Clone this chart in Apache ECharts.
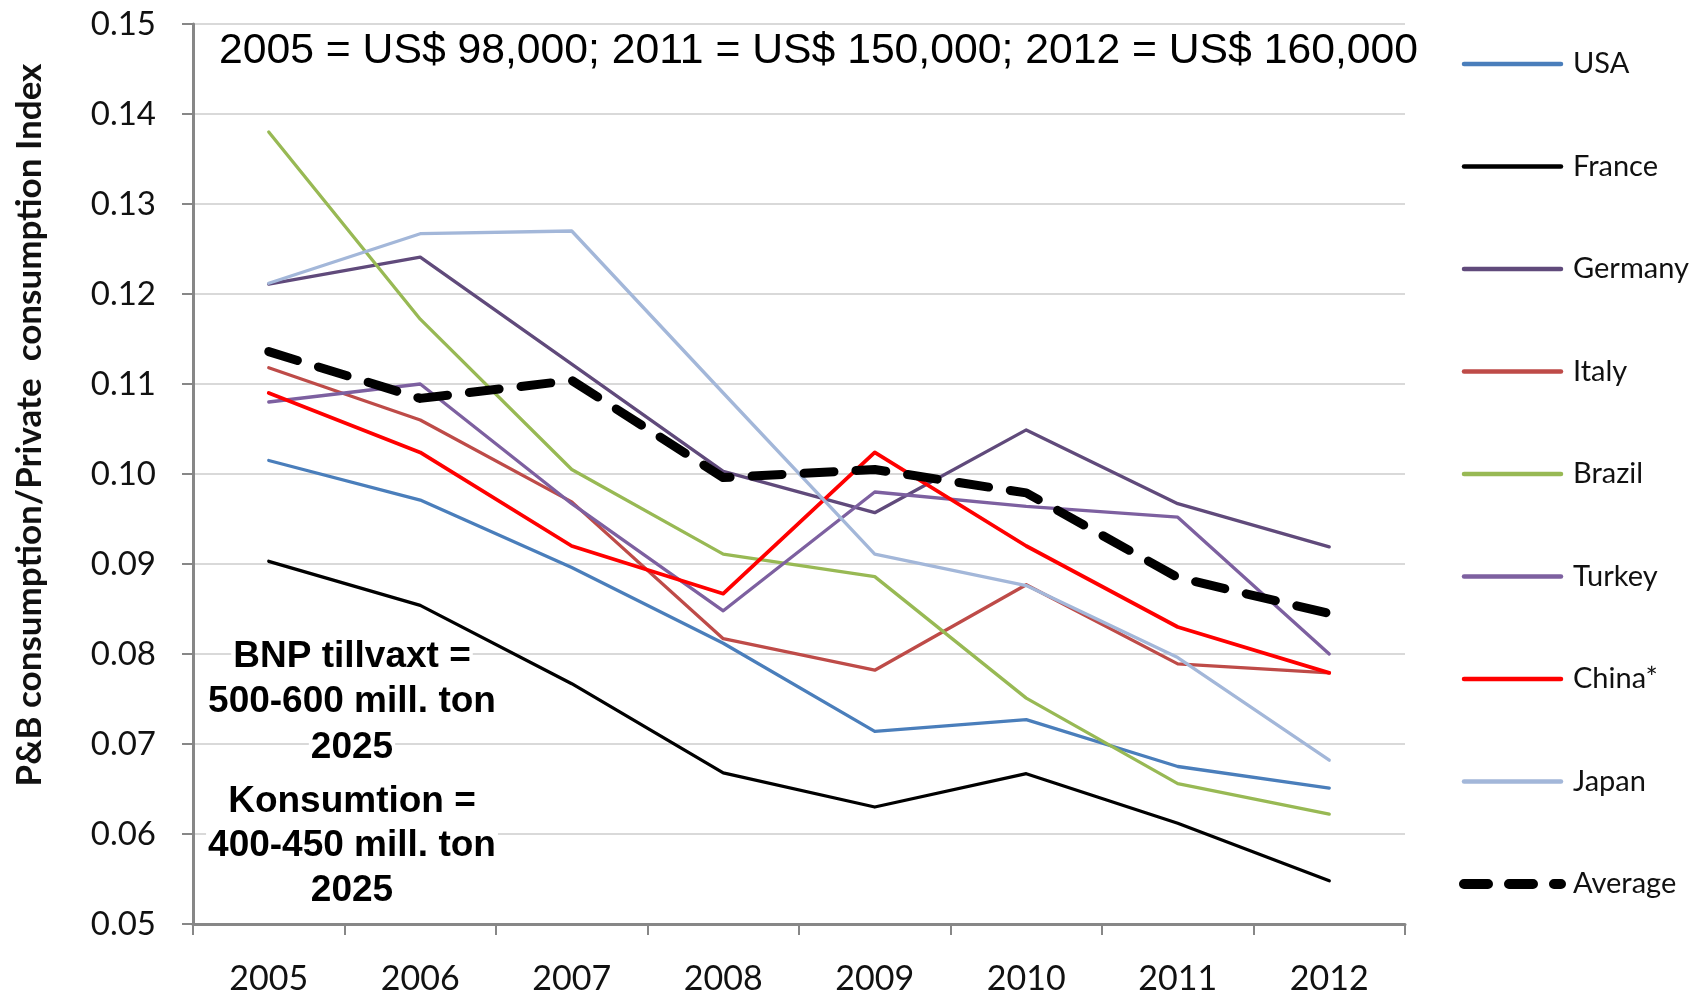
<!DOCTYPE html>
<html>
<head>
<meta charset="utf-8">
<title>P&amp;B consumption index</title>
<script src="https://cdn.jsdelivr.net/npm/echarts@6/dist/echarts.min.js"></script>
<style>
  html, body { margin: 0; padding: 0; background: #fff; }
  #myChart { width: 1692px; height: 996px; }
</style>
</head>
<body>
<div id="myChart"></div>
<script>
// years on the x axis
const years = ['2005', '2006', '2007', '2008', '2009', '2010', '2011', '2012']

// values
const usa = [0.1015, 0.0971, 0.0896, 0.0812, 0.0714, 0.0727, 0.0675, 0.0651]
const france = [0.0903, 0.0854, 0.0767, 0.0668, 0.0630, 0.0667, 0.0612, 0.0548]
const germany = [0.1211, 0.1241, 0.1122, 0.1003, 0.0957, 0.1049, 0.0967, 0.0919]
const italy = [0.1118, 0.1060, 0.0969, 0.0817, 0.0782, 0.0877, 0.0789, 0.0779]
const brazil = [0.1380, 0.1172, 0.1005, 0.0911, 0.0886, 0.0751, 0.0656, 0.0622]
const turkey = [0.1080, 0.1100, 0.0967, 0.0848, 0.0980, 0.0964, 0.0952, 0.0800]
const china = [0.1090, 0.1024, 0.0920, 0.0867, 0.1024, 0.0920, 0.0830, 0.0779]
const japan = [0.1212, 0.1267, 0.1270, 0.1090, 0.0911, 0.0876, 0.0796, 0.0682]
const average = [0.1136, 0.1084, 0.1104, 0.0996, 0.1005, 0.0979, 0.0885, 0.0845]

// the notes written on the chart
const topNote = '2005 = US$ 98,000; 2011 = US$ 150,000; 2012 = US$ 160,000'
const sideNote = ['BNP tillvaxt =', '500-600 mill. ton', '2025', 'Konsumtion =', '400-450 mill. ton', '2025']

const countries = [
  { name: 'USA', data: usa, color: '#4a7ebb', width: 3.3 },
  { name: 'France', data: france, color: '#000000', width: 3.3 },
  { name: 'Germany', data: germany, color: '#604a7b', width: 3.3 },
  { name: 'Italy', data: italy, color: '#be4b48', width: 3.3 },
  { name: 'Brazil', data: brazil, color: '#98b954', width: 3.3 },
  { name: 'Turkey', data: turkey, color: '#7d60a0', width: 3.3 },
  { name: 'China*', data: china, color: '#ff0000', width: 3.8 },
  { name: 'Japan', data: japan, color: '#a3b7d9', width: 3.3 }
]

const axisFont = 'Lato, "Open Sans", sans-serif'
const noteFont = '"Liberation Sans", Arial, sans-serif'

let myChart = echarts.init(document.getElementById('myChart'))

let series = countries.map(c => ({
  name: c.name,
  type: 'line',
  data: c.data,
  symbol: 'none',
  color: c.color,
  lineStyle: { color: c.color, width: c.width, cap: 'round', join: 'round' }
}))
series.push({
  name: 'Average',
  type: 'line',
  data: average,
  symbol: 'none',
  color: '#000',
  lineStyle: { color: '#000', width: 9, type: [30, 22], cap: 'round', join: 'round' }
})

let legendData = countries.map(c => ({
  name: c.name,
  lineStyle: { width: 4.5, cap: 'round' }
}))
legendData.push({
  name: 'Average',
  lineStyle: { width: 10, type: [24, 21], cap: 'round' }
})

// side note: one white box per line, like the original text box
const noteY = [657, 702, 748, 802, 846, 891]
let noteTexts = sideNote.map((t, i) => ({
  type: 'text',
  x: 352,
  y: noteY[i],
  z: 10,
  style: {
    text: t,
    fontFamily: noteFont,
    fontWeight: 'bold',
    fontSize: 37,
    fill: '#000',
    backgroundColor: '#fff',
    padding: [2, 2],
    textAlign: 'center',
    textVerticalAlign: 'middle'
  }
}))

myChart.setOption({
  animation: false,
  backgroundColor: '#fff',
  grid: {
    left: 193,
    right: 287,
    top: 24,
    bottom: 66,
    containLabel: false
  },
  legend: {
    orient: 'vertical',
    left: 1454,
    top: 44,
    itemWidth: 97,
    itemHeight: 30,
    itemGap: 72.5,
    itemStyle: { opacity: 0 },
    textStyle: {
      fontFamily: axisFont,
      fontSize: 29,
      lineHeight: 30,
      color: '#111',
      padding: [0, 0, 0, 7]
    },
    data: legendData
  },
  xAxis: {
    type: 'category',
    data: years,
    boundaryGap: true,
    axisLine: { lineStyle: { color: '#878787', width: 3 } },
    axisTick: { show: true, length: 11, lineStyle: { color: '#878787', width: 2 } },
    axisLabel: {
      margin: 38,
      fontFamily: axisFont,
      fontSize: 34,
      color: '#111'
    },
    splitLine: { show: false }
  },
  yAxis: {
    type: 'value',
    min: 0.05,
    max: 0.15,
    interval: 0.01,
    axisLine: { show: true, lineStyle: { color: '#878787', width: 3 } },
    axisTick: { show: true, length: 11, lineStyle: { color: '#878787', width: 2 } },
    axisLabel: {
      margin: 37,
      fontFamily: axisFont,
      fontSize: 33,
      color: '#111',
      formatter: v => v.toFixed(2)
    },
    splitLine: { lineStyle: { color: '#d9d9d9', width: 2 } }
  },
  graphic: [
    {
      // y axis title
      type: 'text',
      x: 30,
      y: 425,
      rotation: Math.PI / 2,
      style: {
        text: 'P&B consumption/Private  consumption Index',
        fontFamily: axisFont,
        fontWeight: 'bold',
        fontSize: 35,
        fill: '#111',
        textAlign: 'center',
        textVerticalAlign: 'middle'
      }
    },
    {
      type: 'text',
      x: 219,
      y: 51,
      style: {
        text: topNote,
        fontFamily: noteFont,
        fontSize: 42.7,
        fill: '#000',
        textAlign: 'left',
        textVerticalAlign: 'middle'
      }
    }
  ].concat(noteTexts),
  series: series
}, true)
</script>
</body>
</html>
